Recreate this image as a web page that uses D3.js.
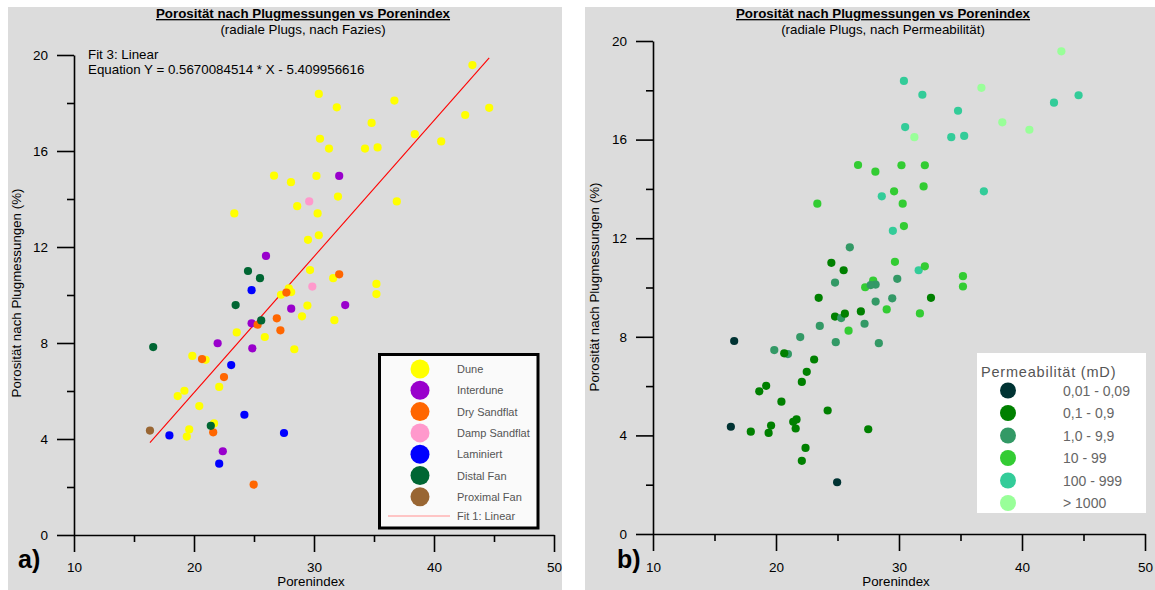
<!DOCTYPE html>
<html>
<head>
<meta charset="utf-8">
<script src="https://cdn.jsdelivr.net/npm/d3@7"></script>
<style>
  html, body { margin: 0; padding: 0; background: #ffffff; }
  text { font-family: "Liberation Sans", Arial, sans-serif; }
</style>
</head>
<body>
<svg id="chart" width="1155" height="590"></svg>
<script>
// ---------------- DATA ----------------
const faziesNames = ["Dune", "Interdune", "Dry Sandflat", "Damp Sandflat", "Laminiert", "Distal Fan", "Proximal Fan"];
const permNames = ["0,01 - 0,09", "0,1 - 0,9", "1,0 - 9,9", "10 - 99", "100 - 999", "> 1000"];

// Porenindex (x), Porosität nach Plugmessungen % (y), facies index, permeability class index
const porenindex = [
  30.4, 31.9, 30.5, 31.25, 26.67, 28.08, 30.2, 32.0, 28.6, 30.3, 23.36, 30.4, 29.5, 29.67, 31.6,
  43.2, 44.6, 42.6, 36.7, 34.8, 38.4, 40.6, 34.25, 35.3, 36.9, 35.2, 35.2, 31.7, 27.25, 27.9,
  28.1, 29.45, 29.0, 23.56, 25.9, 28.36, 19.86, 20.97, 22.1, 19.2, 18.64, 20.44, 21.67, 19.6, 19.4,
  32.1, 26.0, 32.6, 28.1, 24.8, 21.97, 24.86, 22.4,
  32.1, 27.7, 26.9, 25.3, 27.2, 20.67, 22.5, 21.6, 24.97,
  29.6, 29.86,
  24.8, 23.1, 24.2, 17.95, 27.5, 22.1,
  24.5, 25.5, 23.47, 25.6, 16.6, 21.4,
  16.33
];
const porositaet = [
  18.38, 17.82, 16.51, 16.1, 14.97, 14.7, 14.96, 14.1, 13.7, 13.4, 13.4, 12.49, 12.3, 11.04, 10.7,
  19.58, 17.8, 17.5, 18.1, 17.17, 16.7, 16.4, 16.1, 16.15, 13.9, 10.46, 10.04, 8.95, 10.01, 10.28,
  10.12, 9.56, 9.11, 8.44, 8.25, 7.74, 7.46, 7.3, 6.17, 6.01, 5.79, 5.37, 4.65, 4.4, 4.1,
  14.96, 11.63, 9.58, 9.43, 8.82, 7.99, 7.78, 3.49,
  10.86, 10.1, 9.03, 8.76, 8.53, 7.33, 6.58, 4.28, 2.1,
  13.9, 10.35,
  10.2, 7.08, 5.01, 4.15, 4.25, 2.97,
  11.0, 10.7, 9.58, 8.94, 7.83, 4.55,
  4.35
];
const fazies = [
  0,0,0,0,0,0,0,0,0,0,0,0,0,0,0,
  0,0,0,0,0,0,0,0,0,0,0,0,0,0,0,
  0,0,0,0,0,0,0,0,0,0,0,0,0,0,0,
  1,1,1,1,1,1,1,1,
  2,2,2,2,2,2,2,2,2,
  3,3,
  4,4,4,4,4,4,
  5,5,5,5,5,5,
  6
];
const permKlasse = [
  4,4,4,5,3,3,3,3,4,3,3,3,4,3,4,
  5,4,4,5,4,5,5,4,4,4,3,3,3,3,3,
  2,2,3,2,3,2,2,2,1,1,1,1,1,1,1,
  3,2,1,2,1,2,2,1,
  3,2,1,2,2,1,1,1,0,
  3,2,
  2,1,1,1,1,1,
  1,1,1,1,0,1,
  0
];
const fitSlope = 0.5670084514;
const fitIntercept = -5.409956616;
const xTicks = [10, 20, 30, 40, 50];
const xMinorTicks = [15, 25, 35, 45];
const yTicks = [0, 4, 8, 12, 16, 20];
const yMinorTicks = [2, 6, 10, 14, 18];

// ---------------- STYLES ----------------
const faziesColors = ["#ffff00", "#9900cc", "#ff6600", "#ff99cc", "#0000ff", "#006633", "#996633"];
const permColors = ["#003333", "#008000", "#339966", "#33cc33", "#33cc99", "#99ff99"];
const panelGray = "#dcdcdc";

const points = porenindex.map((x, i) => ({x, y: porositaet[i], f: fazies[i], p: permKlasse[i]}));

const svg = d3.select("#chart");

function drawPanel(cfg) {
  const g = svg.append("g");
  g.append("rect").attr("x", cfg.bg[0]).attr("y", cfg.bg[1]).attr("width", cfg.bg[2]).attr("height", cfg.bg[3]).attr("fill", panelGray);

  const x = d3.scaleLinear().domain([10, 50]).range([cfg.left, cfg.right]);
  const y = d3.scaleLinear().domain([0, 20]).range([cfg.bottom, cfg.top]);

  // axes - minor
  g.append("g").attr("transform", `translate(0,${cfg.bottom})`)
    .call(d3.axisBottom(x).tickValues(xMinorTicks).tickSize(7).tickFormat(""))
    .call(a => a.select(".domain").remove());
  g.append("g").attr("transform", `translate(${cfg.left},0)`)
    .call(d3.axisLeft(y).tickValues(yMinorTicks).tickSize(7).tickFormat(""))
    .call(a => a.select(".domain").remove());
  // axes - major
  const xa = g.append("g").attr("transform", `translate(0,${cfg.bottom})`)
    .call(d3.axisBottom(x).tickValues(xTicks).tickSize(17).tickSizeOuter(0).tickPadding(cfg.xPad).tickFormat(d3.format("d")));
  const ya = g.append("g").attr("transform", `translate(${cfg.left},0)`)
    .call(d3.axisLeft(y).tickValues(yTicks).tickSize(17).tickSizeOuter(0).tickPadding(9).tickFormat(d3.format("d")));
  g.selectAll(".tick line").attr("stroke", "#000").attr("stroke-width", 1.6);
  g.selectAll(".domain").attr("stroke", "#000").attr("stroke-width", 1.6);
  g.selectAll(".tick text").attr("font-family", "Liberation Sans, Arial, sans-serif").attr("font-size", 13.5).attr("fill", "#000");

  // titles
  g.append("text").attr("x", cfg.titleX).attr("y", 18).attr("text-anchor", "middle")
    .attr("font-size", 13.33).attr("font-weight", "bold").attr("text-decoration", "underline")
    .text("Porosität nach Plugmessungen vs Porenindex");
  g.append("text").attr("x", cfg.titleX).attr("y", 34).attr("text-anchor", "middle")
    .attr("font-size", 13.33).text(cfg.subtitle);
  g.append("text").attr("x", (cfg.left + cfg.right) / 2 - 3).attr("y", 586).attr("text-anchor", "middle")
    .attr("font-size", 13.33).text("Porenindex");
  g.append("text").attr("transform", `translate(${cfg.yTitleX},${cfg.yTitleY}) rotate(-90)`).attr("text-anchor", "middle")
    .attr("font-size", 13.33).text("Porosität nach Plugmessungen (%)");
  g.append("text").attr("x", cfg.letterX).attr("y", 568).attr("font-size", 25).attr("font-weight", "bold").text(cfg.letter);

  return {g, x, y};
}

// ---------- Panel a ----------
const A = drawPanel({
  bg: [8, 7, 554, 583], left: 74, right: 554, top: 55, bottom: 535, xPad: 10,
  titleX: 303, subtitle: "(radiale Plugs, nach Fazies)", yTitleX: 21, yTitleY: 293,
  letter: "a)", letterX: 18
});

A.g.append("text").attr("x", 88).attr("y", 59).attr("font-size", 13.33).text("Fit 3: Linear");
A.g.append("text").attr("x", 88).attr("y", 74).attr("font-size", 13.33).text("Equation Y = " + fitSlope + " * X - " + Math.abs(fitIntercept));

const xExt = d3.extent(porenindex);
A.g.append("line")
  .attr("x1", A.x(xExt[0])).attr("y1", A.y(fitSlope * xExt[0] + fitIntercept))
  .attr("x2", A.x(xExt[1])).attr("y2", A.y(fitSlope * xExt[1] + fitIntercept))
  .attr("stroke", "#ff0000").attr("stroke-width", 1.1);

A.g.append("g").selectAll("circle").data(points).join("circle")
  .attr("cx", d => A.x(d.x)).attr("cy", d => A.y(d.y)).attr("r", 4.1)
  .attr("fill", d => faziesColors[d.f]);

// legend a
const la = A.g.append("g");
la.append("rect").attr("x", 379.5).attr("y", 354.5).attr("width", 158.5).attr("height", 173.5)
  .attr("fill", "#fafafa").attr("stroke", "#000").attr("stroke-width", 3);
faziesNames.forEach((n, i) => {
  const cy = 369 + i * 21.3;
  la.append("circle").attr("cx", 420).attr("cy", cy).attr("r", 9.5).attr("fill", faziesColors[i]);
  la.append("text").attr("x", 457).attr("y", cy + 4).attr("font-size", 11).attr("fill", "#555").text(n);
});
la.append("line").attr("x1", 388).attr("x2", 450).attr("y1", 516).attr("y2", 516).attr("stroke", "#ffb3b3").attr("stroke-width", 1.5);
la.append("text").attr("x", 457).attr("y", 520).attr("font-size", 11).attr("fill", "#555").text("Fit 1: Linear");

// ---------- Panel b ----------
const B = drawPanel({
  bg: [585, 7, 570, 583], left: 653, right: 1145, top: 41, bottom: 534, xPad: 11,
  titleX: 883, subtitle: "(radiale Plugs, nach Permeabilität)", yTitleX: 599, yTitleY: 287,
  letter: "b)", letterX: 617
});

B.g.append("g").selectAll("circle").data(points).join("circle")
  .attr("cx", d => B.x(d.x)).attr("cy", d => B.y(d.y)).attr("r", 4.1)
  .attr("fill", d => permColors[d.p]);

const lb = B.g.append("g");
lb.append("rect").attr("x", 977).attr("y", 353).attr("width", 169).attr("height", 160).attr("fill", "#ffffff");
lb.append("text").attr("x", 981).attr("y", 377).attr("font-size", 14.5).attr("letter-spacing", 0.8).attr("fill", "#555").text("Permeabilität (mD)");
permNames.forEach((n, i) => {
  const cy = 390.5 + i * 22.5;
  lb.append("circle").attr("cx", 1008).attr("cy", cy).attr("r", 8).attr("fill", permColors[i]);
  lb.append("text").attr("x", 1063).attr("y", cy + 5).attr("font-size", 14).attr("fill", "#666").text(n);
});
</script>
</body>
</html>
